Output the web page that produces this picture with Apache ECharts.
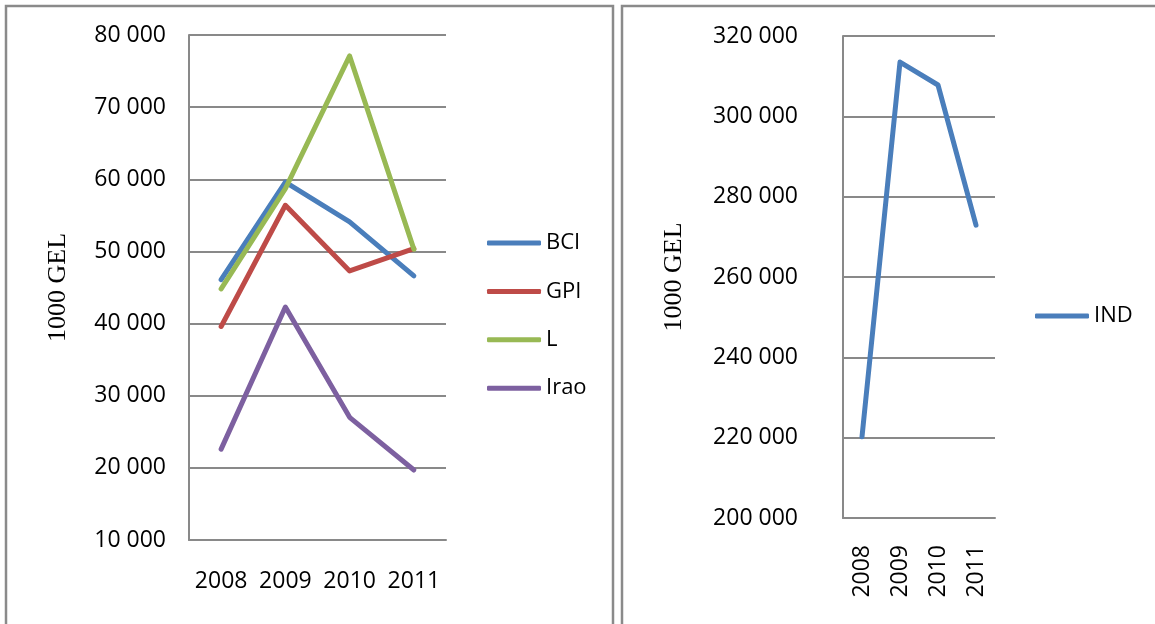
<!DOCTYPE html>
<html>
<head>
<meta charset="utf-8">
<script src="https://cdn.jsdelivr.net/npm/echarts@6/dist/echarts.min.js"></script>
<style>
  html, body { margin: 0; padding: 0; background: #fff; }
  #chart { width: 1155px; height: 624px; }
</style>
</head>
<body>
<div id="chart"></div>
<script>
// Years on the category axes
const years = ['2008', '2009', '2010', '2011'];

// Left panel series (1000 GEL)
const bci  = [46100, 59600, 54100, 46600];
const gpi  = [39600, 56400, 47300, 50400];
const lSer = [44800, 58700, 77100, 50300];
const irao = [22600, 42300, 27000, 19700];

// Right panel series (1000 GEL)
const ind = [220200, 313500, 307800, 272900];

const axisTitle = '1000 GEL';

const gray = '#898989';
const labelFont = 'Open Sans';
const serifFont = 'Liberation Serif';

// "80000" -> "80 000"
function spaced(v) {
  return String(v).replace(/\B(?=(\d{3})+(?!\d))/g, ' ');
}

function lineSeries(name, data, color, idx) {
  return {
    name: name,
    type: 'line',
    data: data,
    xAxisIndex: idx,
    yAxisIndex: idx,
    symbol: 'none',
    color: color,
    lineStyle: { width: 5, color: color, cap: 'round', join: 'round' },
    animation: false
  };
}

function valueAxis(idx, min, max, interval, margin, nameGap) {
  return {
    type: 'value',
    gridIndex: idx,
    min: min,
    max: max,
    interval: interval,
    name: axisTitle,
    nameLocation: 'middle',
    nameGap: nameGap,
    nameTextStyle: { fontFamily: serifFont, fontSize: 26, color: '#000' },
    axisLine: { show: true, lineStyle: { color: gray, width: 2 } },
    axisTick: { show: false },
    splitLine: { show: true, lineStyle: { color: gray, width: 2 } },
    axisLabel: {
      margin: margin,
      color: '#000',
      fontFamily: labelFont,
      fontSize: 23,
      formatter: spaced
    }
  };
}

const chart = echarts.init(document.getElementById('chart'), null, { renderer: 'canvas' });

chart.setOption({
  backgroundColor: '#fff',
  animation: false,
  graphic: [
    { type: 'rect', shape: { x: 6, y: 6, width: 607, height: 700 },
      style: { fill: 'none', stroke: '#8a8a8a', lineWidth: 2.5 } },
    { type: 'rect', shape: { x: 622, y: 6, width: 620, height: 700 },
      style: { fill: 'none', stroke: '#8a8a8a', lineWidth: 2.5 } }
  ],
  grid: [
    { left: 189, top: 35, width: 257, height: 505 },
    { left: 843, top: 36, width: 152, height: 482 }
  ],
  legend: [
    {
      data: ['BCI', 'GPI', 'L', 'Irao'],
      orient: 'vertical',
      left: 487,
      top: 231,
      padding: 0,
      icon: 'roundRect',
      itemWidth: 54,
      itemHeight: 5,
      itemGap: 24.4,
      textStyle: { fontFamily: labelFont, fontSize: 22, color: '#000', lineHeight: 24 }
    },
    {
      data: ['IND'],
      orient: 'vertical',
      left: 1035,
      top: 304,
      padding: 0,
      icon: 'roundRect',
      itemWidth: 54,
      itemHeight: 5,
      textStyle: { fontFamily: labelFont, fontSize: 22, color: '#000', lineHeight: 24 }
    }
  ],
  xAxis: [
    {
      type: 'category',
      gridIndex: 0,
      data: years,
      boundaryGap: true,
      axisLine: { show: true, lineStyle: { color: gray, width: 2 } },
      axisTick: { show: false },
      axisLabel: { margin: 30, color: '#000', fontFamily: labelFont, fontSize: 23, interval: 0 }
    },
    {
      type: 'category',
      gridIndex: 1,
      data: years,
      boundaryGap: true,
      axisLine: { show: true, lineStyle: { color: gray, width: 2 } },
      axisTick: { show: false },
      axisLabel: { margin: 27, rotate: 90, color: '#000', fontFamily: labelFont, fontSize: 23, interval: 0 }
    }
  ],
  yAxis: [
    valueAxis(0, 10000, 80000, 10000, 23, 118),
    valueAxis(1, 200000, 320000, 20000, 45, 156)
  ],
  series: [
    lineSeries('BCI', bci, '#4a7ebb', 0),
    lineSeries('GPI', gpi, '#be4b48', 0),
    lineSeries('L', lSer, '#98b954', 0),
    lineSeries('Irao', irao, '#7d60a0', 0),
    lineSeries('IND', ind, '#4a7ebb', 1)
  ]
});
</script>
</body>
</html>
